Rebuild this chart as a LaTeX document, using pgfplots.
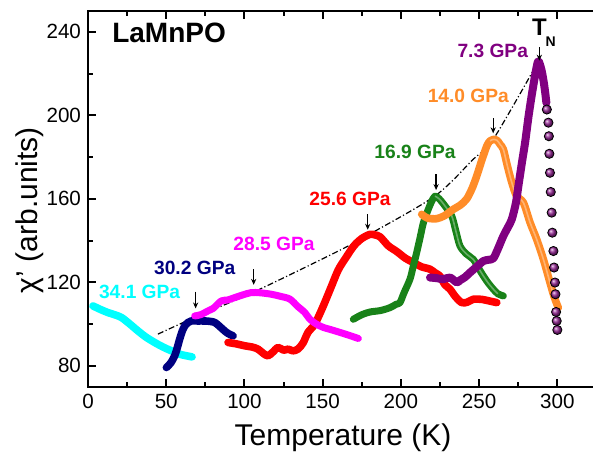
\documentclass[border=0pt]{standalone}
\usepackage{fontspec}
\setmainfont{Liberation Sans}
\usepackage{pgfplots}
\pgfplotsset{compat=1.18}
\usetikzlibrary{arrows.meta}

\definecolor{cpurple}{RGB}{128,0,128}
\definecolor{corange}{RGB}{255,140,40}
\definecolor{cgreen}{RGB}{25,130,25}
\definecolor{cred}{RGB}{255,0,0}
\definecolor{cmagenta}{RGB}{255,0,255}
\definecolor{cnavy}{RGB}{0,0,128}
\definecolor{ccyan}{RGB}{0,255,255}

\pgfplotsset{curve/.style={line width=3.8pt, line cap=round, line join=round, smooth}}

\begin{document}
\begin{tikzpicture}
\begin{axis}[
  at={(0,0)}, anchor=south west,
  scale only axis, width=255pt, height=187.85pt,
  xmin=0, xmax=326, ymin=70, ymax=250,
  xtick={0,50,...,300}, ytick={80,120,...,240},
  minor x tick num=1, minor y tick num=1,
  ytick pos=left,
  tick align=inside,
  major tick length=4pt, minor tick length=2.5pt,
  every tick/.style={black, line width=1pt},
  axis line style={line width=1.2pt},
  tick label style={font=\fontsize{10.3}{11}\selectfont},
  /pgf/number format/assume math mode=true,
  xlabel={Temperature (K)}, ylabel={χ' (arb.units)},
  label style={font=\fontsize{15}{16}\selectfont},
  xlabel style={at={(axis description cs:0.5,0)}, anchor=center, yshift=-25.5pt},
  ylabel style={at={(axis description cs:-0.115,0.47)}, anchor=center},
  clip=false,
]
% guide line through the ordering temperatures
\addplot[black, line width=0.6pt, dash pattern=on 3pt off 1.2pt on 0.6pt off 1.2pt, smooth]
  coordinates {(44.7,95.2)(69,103.5)(105.5,115.2)(160,135)(181,143.5)(222,161.5)(246.3,179)(259,188.5)(288,226)};

% 34.1 GPa
\addplot[ccyan, curve] coordinates {
(3.2,108.7)(8,107)(12.8,105.5)(17,104.5)(21.3,103.2)(26,100.5)(32,96.7)(37,93.8)
(42.6,91.2)(48,89)(53.3,87.2)(59,85.5)(65,84.5)(66.5,84.3)};
% 30.2 GPa
\addplot[cnavy, curve] coordinates {
(50.1,79.2)(53,81.5)(55.4,84.8)(57,88.5)(58.6,92.8)(60.2,96.5)(61.8,99.1)(64,100.8)
(66,101.5)(70,101.5)(74.6,101.5)(78,101.3)(81,100.8)(84,99)(87.4,96.7)(90,95.3)(92.7,94.4)};
% 25.6 GPa
\addplot[cred, curve] coordinates {
(89.5,91.2)(95,90.5)(100.2,89.6)(105,89)(108.7,88)(112,86)(115,84.8)(118,86.5)
(121.5,88.8)(125,87.5)(127.9,88)(131,87.2)(134.2,88)(137.5,91)(140.6,96)(145,100)
(150,108)(155,117)(160,126)(165,132)(170,137.5)(175,141)(180.3,143)(183.5,142.7)
(186.7,141.8)(192,137.5)(197.3,134.8)(203,131.5)(208,129.5)(213,127.5)(218.6,126.3)
(222,124.5)(225,123)(228,119)(231.4,116.7)(235,113)(238.9,110.3)(242.5,110.5)
(246.3,111.9)(252,111.8)(257,111)(261.3,110.3)};
% 28.5 GPa
\addplot[cmagenta, curve, line width=3.5pt] coordinates {
(68.2,103.9)(72,104.5)(76.7,106.3)(80,107.5)(85.2,111.1)(89,111.5)(93.8,112.7)(99,114)
(104.4,115.1)(110,115)(117.2,114.3)(123,113.3)(129,112)(134,108.5)(138.5,105.6)
(141.9,102.3)(146,100)(150.4,98.4)(155,97.4)(161.1,96)(167,94.6)(172.8,93.1)};
% 16.9 GPa
\addplot[cgreen, curve, line width=3.5pt] coordinates {
(169.6,102.3)(175,104.5)(180.3,105.8)(187,106.5)(193.1,107.9)(197,109.5)(199.4,110.3)
(202,115)(205.8,121.5)(208,128)(210.1,134.3)(212.3,141.5)(214.4,148.6)(217,154)
(219.5,158.5)(221.8,161.3)(224.5,160)(228.2,156.6)(232.5,151.8)(235,145)(237.8,137.4)
(242,133.5)(246.3,131)(249.5,127)(252.7,123.1)(256,119.5)(259.1,116.7)(262,114.5)(265.5,113.5)};
\addplot[white, opacity=0.35, line width=0.8pt, smooth] coordinates {
(221.8,161.3)(224.5,160)(228.2,156.6)(232.5,151.8)(235,145)(237.8,137.4)
(242,133.5)(246.3,131)(249.5,127)(252.7,123.1)(256,119.5)(259.1,116.7)(262,114.5)};
% 14.0 GPa
\addplot[corange, curve] coordinates {
(213.3,152.6)(217,150.8)(222.9,150.5)(228,152)(233.5,155)(238,157)(242.1,160)(245.5,165)
(248.5,171)(251.5,178)(254.9,185.3)(257,187.8)(259.1,188.5)(261.5,188)(263.5,186)
(265.5,183.7)(268,176)(270.9,167.8)(274,161.3)(278.3,158.2)(282.6,148.6)(286.8,140.6)
(291.1,131)(295.3,119.9)(298,113)(300.6,107.9)};
\addplot[white, opacity=0.35, line width=0.8pt, smooth] coordinates {
(257,187.8)(259.1,188.5)(261.5,188)(263.5,186)(265.5,183.7)(268,176)(270.9,167.8)
(274,161.3)(278.3,158.2)(282.6,148.6)(286.8,140.6)(291.1,131)(295.3,119.9)(298,113)};
% 7.3 GPa
\addplot[cpurple, curve, line width=4pt] coordinates {
(218.6,122.3)(223,122)(227.1,121.5)(231.4,122.3)(235.7,120)(237.8,121)(241,122.5)
(244.2,124.7)(248.5,127.5)(252.7,130.2)(256,130.8)(259.1,131.5)(262,136)(265.5,142.2)
(268.5,146.5)(270.9,150.2)(273.5,158)(275.1,166.1)(277.5,178)(279.4,187)(281.5,199)
(283.5,209)(285.5,218)(287,224)(288,226)(289.8,222)(291.3,216)(292.4,210)(293,206)};
\addplot[only marks, mark=ball, mark size=2.3pt, mark options={ball color=cpurple!85}] coordinates {
(293.3,202.8)(294.3,196.5)(294.6,190)(294.9,181.6)(295.3,172.5)(295.8,163.3)(296.4,153.4)
(296.8,143.8)(297.5,135)(297.9,127.1)(298.5,119.9)(298.8,114.3)(299.2,105.8)(299.6,101.5)(300,97.2)};

% arrows
\foreach \t/\a/\b in {68.8/115.5/107.5, 105.9/126.3/118.8, 178.8/152.6/145.2,
                      222.5/171.7/164.2, 259/198.6/191.4, 288.5/232.6/226.2}{
  \edef\temp{\noexpand\draw[-{Stealth[length=3pt,width=2.6pt]}, line width=0.6pt]
    (axis cs:\t,\a) -- (axis cs:\t,\b);}\temp
}

% labels
\node[font=\bfseries\fontsize{14}{15}\selectfont, anchor=west] at (axis cs:11,239.5) {LaMnPO};
\node[font=\bfseries\fontsize{9.6}{10}\selectfont, text=cpurple] at (axis cs:258.7,230.7) {7.3 GPa};
\node[font=\bfseries\fontsize{9.6}{10}\selectfont, text=corange] at (axis cs:243.1,209.2) {14.0 GPa};
\node[font=\bfseries\fontsize{9.6}{10}\selectfont, text=cgreen] at (axis cs:209,182.4) {16.9 GPa};
\node[font=\bfseries\fontsize{9.6}{10}\selectfont, text=cred] at (axis cs:167.5,160.2) {25.6 GPa};
\node[font=\bfseries\fontsize{9.6}{10}\selectfont, text=cmagenta] at (axis cs:118.9,138.2) {28.5 GPa};
\node[font=\bfseries\fontsize{9.6}{10}\selectfont, text=cnavy] at (axis cs:68.2,127.1) {30.2 GPa};
\node[font=\bfseries\fontsize{9.6}{10}\selectfont, text=ccyan] at (axis cs:33,115.4) {34.1 GPa};
\node[font=\bfseries\fontsize{12}{13}\selectfont, inner sep=0pt] at (axis cs:288.5,242) {T};
\node[font=\bfseries\fontsize{7}{8}\selectfont, anchor=west, inner sep=0pt] at (axis cs:292.3,235.5) {N};
\end{axis}
\pgfresetboundingbox
\path (-44pt,-32.65pt) rectangle (252.5pt,193.35pt);
\end{tikzpicture}
\end{document}
